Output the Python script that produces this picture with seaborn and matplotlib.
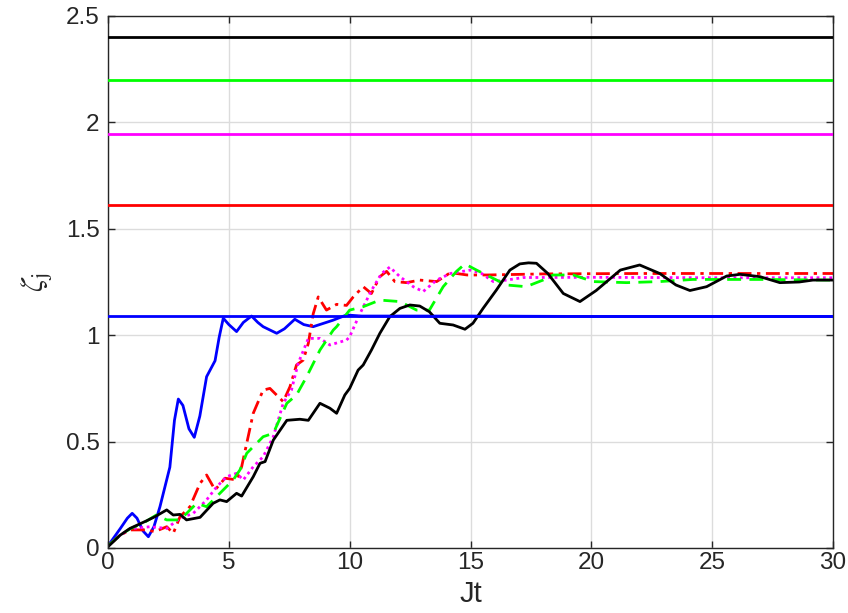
import matplotlib
matplotlib.use("Agg")
import matplotlib.pyplot as plt
import seaborn as sns
import numpy as np

# ---------------- data ----------------
t_blue = [0, 0.5, 0.8, 1.0, 1.2, 1.45, 1.67, 1.9, 2.15, 2.56, 2.75, 2.91, 3.1, 3.35, 3.57, 3.8, 4.08,
          4.43, 4.6, 4.77, 5.0, 5.32, 5.6, 5.94, 6.2, 6.42, 6.98, 7.3, 7.73, 8.1, 8.49, 9.3, 9.87,
          10.5, 12, 15, 20, 25, 30]
y_blue = [0.01, 0.09, 0.14, 0.163, 0.14, 0.08, 0.053, 0.10, 0.194, 0.38, 0.60, 0.70, 0.67, 0.56,
          0.52, 0.62, 0.805, 0.88, 0.99, 1.08, 1.05, 1.017, 1.06, 1.09, 1.06, 1.04, 1.009, 1.03,
          1.075, 1.05, 1.04, 1.07, 1.095, 1.09, 1.09, 1.09, 1.088, 1.088, 1.088]

t_black = [0, 0.5, 0.91, 1.6, 1.94, 2.43, 2.7, 2.98, 3.25, 3.81, 4.35, 4.63, 4.91, 5.32, 5.53, 6.01,
           6.29, 6.5, 6.84, 7.4, 7.94, 8.29, 8.77, 9.18, 9.46, 9.8, 10.0, 10.35, 10.56, 10.9, 11.25,
           11.66, 12.08, 12.49, 12.9, 13.3, 13.73, 14.28, 14.77, 15.1, 15.52, 16.07, 16.63, 17.04,
           17.4, 17.73, 18.2, 18.84, 19.53, 20.2, 21.2, 22.0, 22.83, 23.5, 24.08, 24.77, 25.6, 26.15,
           26.98, 27.8, 28.6, 29.17, 30]
y_black = [0.006, 0.06, 0.092, 0.128, 0.147, 0.179, 0.155, 0.158, 0.132, 0.144, 0.21, 0.226, 0.218,
           0.257, 0.244, 0.335, 0.398, 0.406, 0.507, 0.60, 0.605, 0.60, 0.68, 0.657, 0.633, 0.719,
           0.75, 0.836, 0.86, 0.93, 1.009, 1.087, 1.126, 1.142, 1.137, 1.11, 1.056, 1.048, 1.028,
           1.056, 1.126, 1.212, 1.306, 1.335, 1.34, 1.338, 1.29, 1.196, 1.158, 1.21, 1.306, 1.33,
           1.29, 1.236, 1.21, 1.228, 1.278, 1.286, 1.275, 1.247, 1.25, 1.259, 1.259]

t_red = [0, 0.5, 0.91, 1.6, 1.94, 2.43, 2.7, 2.98, 3.39, 3.81, 4.08, 4.43, 4.84, 5.32, 5.53, 5.74,
         6.01, 6.42, 6.7, 7.25, 7.53, 7.8, 8.08, 8.29, 8.49, 8.7, 9.04, 9.46, 9.87, 10.15, 10.56,
         10.9, 11.25, 11.53, 11.87, 12.35, 12.9, 13.6, 14.17, 14.86, 15.7, 18, 22, 26, 30]
y_red = [0.01, 0.06, 0.085, 0.085, 0.077, 0.10, 0.069, 0.147, 0.194, 0.304, 0.343, 0.273, 0.328,
         0.32, 0.382, 0.492, 0.633, 0.742, 0.75, 0.688, 0.758, 0.86, 0.883, 0.962, 1.10, 1.18,
         1.118, 1.145, 1.14, 1.18, 1.228, 1.196, 1.275, 1.30, 1.252, 1.247, 1.259, 1.252, 1.294,
         1.283, 1.283, 1.288, 1.29, 1.29, 1.29]

t_mag = [0, 0.5, 0.91, 1.74, 2.43, 2.98, 3.53, 4.08, 4.5, 4.91, 5.32, 5.6, 6.01, 6.42, 6.84, 7.25,
         7.59, 7.87, 8.29, 8.77, 9.18, 9.87, 10.0, 10.42, 10.9, 11.32, 11.66, 12.08, 12.63, 13.04,
         13.6, 14.17, 14.99, 15.46, 15.94, 16.49, 17.18, 20, 25, 30]
y_mag = [0.01, 0.06, 0.09, 0.10, 0.092, 0.14, 0.163, 0.226, 0.288, 0.335, 0.351, 0.32, 0.382, 0.429,
         0.523, 0.68, 0.742, 0.868, 0.985, 0.985, 0.954, 0.977, 0.993, 1.10, 1.21, 1.29, 1.32,
         1.275, 1.228, 1.205, 1.259, 1.29, 1.306, 1.29, 1.252, 1.259, 1.271, 1.272, 1.27, 1.27]

t_green = [0, 0.5, 0.91, 1.5, 2.0, 2.43, 2.98, 3.67, 4.08, 4.63, 5.18, 5.46, 5.74, 6.42, 6.84, 7.4,
           7.8, 8.22, 8.77, 9.32, 9.46, 10.0, 10.56, 11.25, 12.08, 12.77, 13.3, 13.87, 14.42, 14.77,
           15.25, 15.94, 16.49, 17.3, 18.0, 18.42, 19.25, 20.08, 21.46, 22.83, 24.2, 25.6, 27, 30]
y_green = [0.01, 0.06, 0.09, 0.12, 0.155, 0.132, 0.132, 0.21, 0.194, 0.257, 0.32, 0.367, 0.445,
           0.523, 0.539, 0.68, 0.719, 0.805, 0.93, 1.024, 1.04, 1.118, 1.134, 1.165, 1.158, 1.118,
           1.118, 1.228, 1.30, 1.335, 1.306, 1.267, 1.236, 1.228, 1.259, 1.283, 1.283, 1.252,
           1.247, 1.252, 1.262, 1.262, 1.262, 1.259]

h_levels = [2.4, 2.2, 1.945, 1.612, 1.09]
h_colors = ["#000000", "#00ff00", "#ff00ff", "#ff0000", "#0000ff"]

x_ticks = [0, 5, 10, 15, 20, 25, 30]
y_ticks = [0, 0.5, 1, 1.5, 2, 2.5]
y_tick_labels = ["0", "0.5", "1", "1.5", "2", "2.5"]

# ---------------- style ----------------
sns.set_theme(style="white")
plt.rcParams["font.family"] = ["Liberation Sans", "DejaVu Sans"]
plt.rcParams["mathtext.fontset"] = "stix"

fig = plt.figure(figsize=(8.48, 6.13), dpi=100)
ax = fig.add_axes([108 / 848, 65 / 613, 725 / 848, 532 / 613])

lw = 2.0
common = dict(ax=ax, lw=lw, estimator=None, sort=False, solid_joinstyle="round",
              dash_joinstyle="round")
sns.lineplot(x=t_blue, y=y_blue, color="#0000ff", **common)
sns.lineplot(x=t_red, y=y_red, color="#ff0000", linestyle=(0, (5, 2, 1.2, 2)), **common)
sns.lineplot(x=t_mag, y=y_mag, color="#ff00ff", linestyle=(0, (1, 1.3)), **common)
sns.lineplot(x=t_green, y=y_green, color="#00ff00", linestyle=(0, (5, 3)), **common)
sns.lineplot(x=t_black, y=y_black, color="#000000", **common)

for lev, c in zip(h_levels, h_colors):
    ax.axhline(lev, color=c, lw=2.0, zorder=3)

ax.set_xlim(0, 30)
ax.set_ylim(0, 2.5)
ax.set_xticks(x_ticks)
ax.set_xticklabels([str(v) for v in x_ticks])
ax.set_yticks(y_ticks)
ax.set_yticklabels(y_tick_labels)
ax.grid(True, color="#dcdcdc", lw=1.0)
ax.set_axisbelow(True)

for s in ax.spines.values():
    s.set_visible(True)
    s.set_color("#262626")
    s.set_linewidth(1.0)

ax.tick_params(axis="both", which="both", direction="in", length=5, width=1.0,
               color="#262626", labelcolor="#262626", labelsize=17.5,
               top=True, right=True, bottom=True, left=True, pad=3)
ax.tick_params(axis="y", pad=6)

ax.set_xlabel("Jt", fontsize=21, color="#262626", labelpad=4)
ax.set_ylabel(r"$\zeta_{\mathrm{j}}$", fontsize=22, color="#262626", labelpad=8)

fig.savefig("out.png", dpi=100)
